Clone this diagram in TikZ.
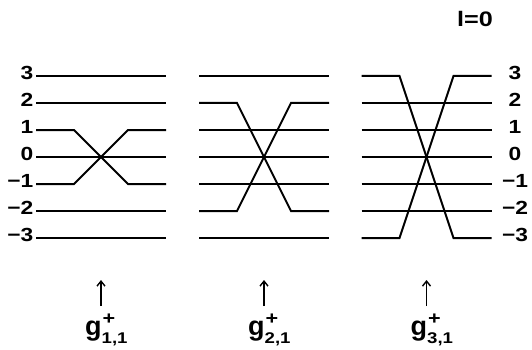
\documentclass[tikz,border=0pt]{standalone}
\usepackage{fontspec}
\setmainfont{Liberation Sans}
\newfontfamily\lblfont[FakeStretch=1.2]{Liberation Sans Bold}
\newfontfamily\gfont{Liberation Sans Bold}
\usetikzlibrary{arrows.meta}
\tikzset{
  level/.style={line width=2pt, line join=miter},
  lvl/.style={font=\fontsize{19}{19}\lblfont, inner sep=0pt},
  opname/.style={inner sep=0pt, anchor=base west},
  raise/.style={line width=1.4pt, -{Straight Barb[length=5pt,width=8pt,line width=1.4pt]}},
}
% g^+_{n,1}: raising operator symbol with super- and subscript
\newcommand{\gop}[1]{{\fontsize{27}{27}\gfont g}\rlap{\kern1pt\raisebox{11pt}{\fontsize{18}{18}\lblfont +}}\raisebox{-8pt}{\fontsize{15.5}{15.5}\lblfont #1,1}}
\begin{document}
\begin{tikzpicture}[x=1pt,y=-1pt]
\useasboundingbox (0,0) rectangle (532,350);
\def\yk#1{157-27*(#1)}
% quantum number l
\node[lvl, font=\fontsize{21}{21}\lblfont] (lval) at (475,19) {l=0};
% panel centres
\def\cA{101}\def\cB{264}\def\cC{426.5}
\def\hw{65}\def\bend{27}
% level labels, left and right
\foreach \k/\t in {3/3,2/2,1/1,0/0,-1/−1,-2/−2,-3/−3}{
  \node[lvl, anchor=east] (L\k) at (33.5,{\yk{\k}-3}) {\t};
  \node[lvl] (R\k) at (515,{\yk{\k}-3}) {\t};
}
% three panels: levels n and -n are swapped through the centre
\foreach \c/\n in {\cA/1,\cB/2,\cC/3}{
  \foreach \k in {3,2,1,0,-1,-2,-3}{
    \pgfmathtruncatemacro{\absk}{abs(\k)}
    \ifnum\absk=\n\relax
      \draw[level] ({\c-\hw},{\yk{\k}}) -- ({\c-\bend},{\yk{\k}})
        -- ({\c+\bend},{\yk{-\k}}) -- ({\c+\hw},{\yk{-\k}});
    \else
      \draw[level] ({\c-\hw},{\yk{\k}}) -- ({\c+\hw},{\yk{\k}});
    \fi
  }
  \node[opname] (g\n) at ({\c-16},335) {\gop{\n}};
  \coordinate (tip\n) at (\c,280);
  \draw[raise] (\c,306) -- (tip\n);
}
\end{tikzpicture}
\end{document}
